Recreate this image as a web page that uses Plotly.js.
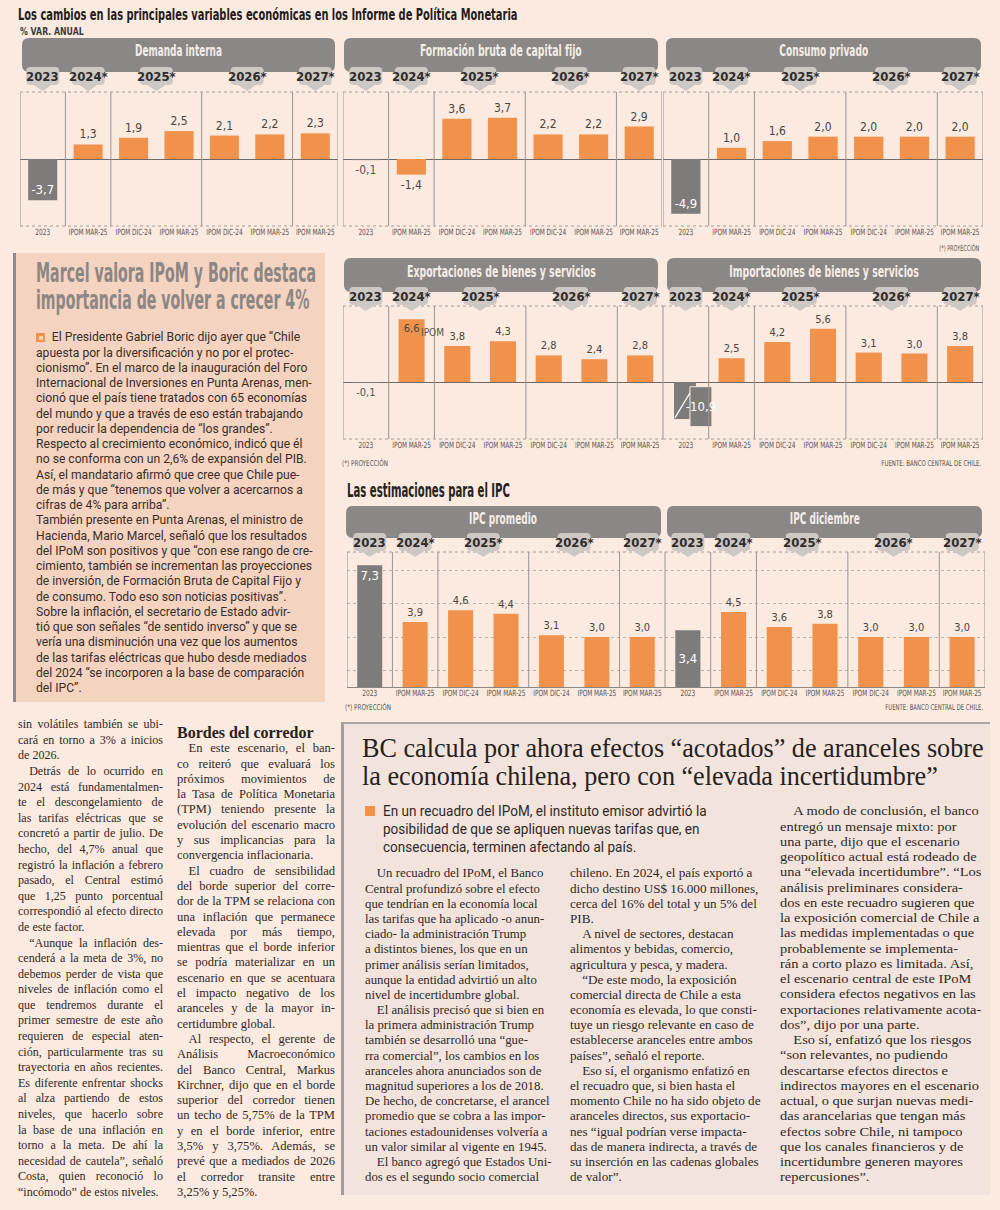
<!DOCTYPE html>
<html lang="es"><head><meta charset="utf-8"><title>IPoM</title>
<script src="https://cdn.plot.ly/plotly-3.0.1.min.js"></script>
<style>
html,body{margin:0;padding:0;background:#fbeadf;}
#page{position:relative;width:1000px;height:1210px;overflow:hidden;background:#fbeadf;}
#chart{position:absolute;left:0;top:0;width:1000px;height:1210px;z-index:1;}
.box{position:absolute;z-index:2;box-sizing:border-box;}
.blk{position:absolute;z-index:3;transform-origin:0 0;}
.ln{display:block;}
.sq{position:absolute;z-index:4;width:10px;height:10px;background:#f0924b;}
.sq i{position:absolute;left:3px;top:3px;width:4px;height:4px;background:#f9d3b2;}
</style></head>
<body><div id="page"><div id="chart"></div></div>
<script>
const W = 1000, H = 1210;
const BG = '#fbeadf', ORANGE = '#f0924b', GRAY = '#7e7c7b', HEAD = '#8b8786', TAB = '#cec8c5';
const NARROW = '"Liberation Sans Narrow","DejaVu Sans Condensed",sans-serif';

// ---------- DATA ----------
const categories = ['2023','IPOM MAR-25','IPOM DIC-24','IPOM MAR-25','IPOM DIC-24','IPOM MAR-25','IPOM MAR-25'];
const yearGroups = ['2023','2024*','2025*','2025*','2026*','2026*','2027*'];
const demandaInterna = [-3.7, 1.3, 1.9, 2.5, 2.1, 2.2, 2.3];
const formacionBruta = [-0.1, -1.4, 3.6, 3.7, 2.2, 2.2, 2.9];
const consumoPrivado = [-4.9, 1.0, 1.6, 2.0, 2.0, 2.0, 2.0];
const exportaciones = [-0.1, 6.6, 3.8, 4.3, 2.8, 2.4, 2.8];
const importaciones = [-10.9, 2.5, 4.2, 5.6, 3.1, 3.0, 3.8];
const ipcPromedio = [7.3, 3.9, 4.6, 4.4, 3.1, 3.0, 3.0];
const ipcDiciembre = [3.4, 4.5, 3.6, 3.8, 3.0, 3.0, 3.0];
const ipcGridVals = [1, 3, 5, 7];

const mainTitle = 'Los cambios en las principales variables económicas en los Informe de Política Monetaria';

// ---------- PANEL LAYOUT (px) ----------
const panels = [
 {title:'Demanda interna', values:demandaInterna, x:[20,338], y:[92,226], range:[-6,6], head:[22,335,38,72], titleW:87, bw:0.64, fs:12},
 {title:'Formación bruta de capital fijo', values:formacionBruta, x:[343,662], y:[92,226], range:[-6,6], head:[344,658,38,72], titleW:162, bw:0.64, fs:12},
 {title:'Consumo privado', values:consumoPrivado, x:[663,983], y:[92,226], range:[-6,6], head:[666,981,38,72], titleW:89, bw:0.64, fs:12},
 {title:'Exportaciones de bienes y servicios', values:exportaciones, x:[343,663], y:[306,439], range:[-6,8], head:[344,658,258,292], titleW:189, bw:0.57, fs:11, insideIdx:[1], note:{idx:1, dx:0.45, dy:-1.35, text:'IPOM'}},
 {title:'Importaciones de bienes y servicios', values:importaciones, x:[663,983], y:[306,439], range:[-6,8], head:[667,981,258,292], titleW:190, bw:0.57, fs:11},
 {title:'IPC promedio', values:ipcPromedio, x:[347,665], y:[552,687], range:[0,8.1], head:[346,661,506,538], titleW:68, bw:0.55, fs:11, grid:true},
 {title:'IPC diciembre', values:ipcDiciembre, x:[665,985], y:[552,687], range:[0,8.1], head:[667,982,506,538], titleW:70, bw:0.55, fs:11, grid:true, grayAnchor:'middle'}
];

const fmt = v => v.toFixed(1).replace('.', ',');
const isProj = g => g.endsWith('*');
const PY = v => (1 - v / H);

function roundRectPx(x0, x1, y0, y1, r) {
  const X = v => (v / W).toFixed(5), Y = v => (1 - v / H).toFixed(5);
  return `M ${X(x0+r)},${Y(y0)} L ${X(x1-r)},${Y(y0)} Q ${X(x1)},${Y(y0)} ${X(x1)},${Y(y0+r)} L ${X(x1)},${Y(y1-r)} Q ${X(x1)},${Y(y1)} ${X(x1-r)},${Y(y1)} L ${X(x0+r)},${Y(y1)} Q ${X(x0)},${Y(y1)} ${X(x0)},${Y(y1-r)} L ${X(x0)},${Y(y0+r)} Q ${X(x0)},${Y(y0)} ${X(x0+r)},${Y(y0)} Z`;
}
function tabPath(c, hw, rx, yT, yB, yTip, ry, pw) {
  const Y = v => (1 - v / H).toFixed(5);
  const L = c - hw, R = c + hw;
  return `M ${L+rx},${Y(yT)} L ${R-rx},${Y(yT)} Q ${R},${Y(yT)} ${R},${Y(yT+ry)} L ${R},${Y(yB-ry)} Q ${R},${Y(yB)} ${R-rx},${Y(yB)} L ${c+pw},${Y(yB)} L ${c},${Y(yTip)} L ${c-pw},${Y(yB)} L ${L+rx},${Y(yB)} Q ${L},${Y(yB)} ${L},${Y(yB-ry)} L ${L},${Y(yT+ry)} Q ${L},${Y(yT)} ${L+rx},${Y(yT)} Z`;
}

const traces = [], shapes = [], annotations = [], fits = [];
function addAnn(a, fit) { annotations.push(Object.assign({showarrow:false, xanchor:'center', yanchor:'middle'}, a)); fits.push(fit || null); }

const layout = {
  width: W, height: H, margin:{l:0, r:0, t:0, b:0},
  paper_bgcolor: BG, plot_bgcolor: 'rgba(0,0,0,0)',
  barmode: 'overlay', showlegend: false,
  font: {family: NARROW, color: '#444'},
  title: {text: '<b>' + mainTitle + '</b>', x: 18 / W, xanchor: 'left', y: PY(14), yanchor: 'middle', xref: 'paper', yref: 'paper', font: {family: NARROW, size: 16, color: '#1f1c1b'}},
  shapes: shapes, annotations: annotations
};

panels.forEach((p, k) => {
  const id = k ? String(k + 1) : '';
  const xa = 'x' + id, ya = 'y' + id;
  const n = p.values.length;
  const idx = p.values.map((_, i) => i);
  const slot = (p.x[1] - p.x[0]) / n;
  layout['xaxis' + id] = {domain:[p.x[0] / W, p.x[1] / W], range:[-0.5, n - 0.5], anchor: ya,
    tickmode:'array', tickvals: idx, ticktext: categories, tickangle: 0,
    tickfont:{family: NARROW, size: 8.5, color: '#5b5554'}, showgrid:false, zeroline:false, showline:false, ticks:'', fixedrange:true};
  const yax = {domain:[PY(p.y[1]), PY(p.y[0])], range: p.range, anchor: xa, showticklabels:false, ticks:'',
    zeroline:true, zerolinecolor: p.grid ? '#8c8683' : '#6f6a68', zerolinewidth:1, showgrid: !!p.grid, fixedrange:true};
  if (p.grid) Object.assign(yax, {tickmode:'array', tickvals: ipcGridVals, gridcolor:'#bdb2ac', griddash:'dot', gridwidth:1});
  layout['yaxis' + id] = yax;

  // header bar
  const [hx0, hx1, hy0, hy1] = p.head;
  shapes.push({type:'path', xref:'paper', yref:'paper', path: roundRectPx(hx0, hx1, hy0, hy1, 7), fillcolor: HEAD, line:{width:0}});
  addAnn({xref:'paper', yref:'paper', x: (hx0 + hx1) / 2 / W, y: PY(hy0 + 13), text: '<b>' + p.title + '</b>', font:{family: NARROW, size: 16.5, color:'#f4ede8'}}, {w: p.titleW, a:'center'});

  // frame lines
  const bounds = [-0.5];
  for (let i = 1; i < n; i++) if (yearGroups[i] !== yearGroups[i - 1]) bounds.push(i - 0.5);
  bounds.push(n - 0.5);
  bounds.forEach(b => shapes.push({type:'line', xref: xa, yref: ya + ' domain', x0:b, x1:b, y0:0, y1:1, line:{color:'#9b9593', width:1}}));
  shapes.push({type:'line', xref: xa + ' domain', yref: ya + ' domain', x0:0, x1:1, y0:1, y1:1, line:{color:'#a49e9b', width:1, dash:'dot'}});
  if (!p.grid) shapes.push({type:'line', xref: xa + ' domain', yref: ya + ' domain', x0:0, x1:1, y0:0, y1:0, line:{color:'#a49e9b', width:1, dash:'dot'}});

  // year tabs
  const tabTop = hy1 - 5, tabBot = tabTop + 18, tip = tabBot + 6;
  let s = 0;
  for (let i = 1; i <= n; i++) {
    if (i === n || yearGroups[i] !== yearGroups[s]) {
      const c = (s + i - 1) / 2;
      shapes.push({type:'path', xref: xa, yref:'paper', path: tabPath(c, 16.5 / slot, 4 / slot, tabTop, tabBot, tip, 4, 9 / slot), fillcolor: TAB, line:{width:0}});
      addAnn({xref: xa, yref:'paper', x: c, y: PY(tabTop + 9.5), text: '<b>' + yearGroups[s] + '</b>', font:{family: NARROW, size: 13, color:'#2f2c2b'}});
      s = i;
    }
  }

  // bars: actual (gray) and projections (orange)
  const actual = idx.filter(i => !isProj(yearGroups[i]));
  const proj = idx.filter(i => isProj(yearGroups[i]));
  const inR = actual.filter(i => p.values[i] >= p.range[0]);
  const off = actual.filter(i => p.values[i] < p.range[0]);
  const whiteFont = {family: NARROW, size: 13, color: '#ffffff'};
  const darkFont = {family: NARROW, size: p.fs, color: '#4a4543'};
  if (inR.length) traces.push({type:'bar', xaxis: xa, yaxis: ya, x: inR, y: inR.map(i => p.values[i]), width: p.bw,
    marker:{color: GRAY}, text: inR.map(i => fmt(p.values[i])), textangle: 0,
    textposition: inR.map(i => Math.abs(p.values[i]) >= 1 ? 'inside' : 'outside'),
    insidetextanchor: p.grayAnchor || 'end', insidetextfont: whiteFont, outsidetextfont: {family: NARROW, size: p.fs, color:'#555'},
    constraintext:'none', cliponaxis:false, hoverinfo:'skip'});
  off.forEach(i => {
    const r0 = p.range[0];
    traces.push({type:'bar', xaxis: xa, yaxis: ya, x:[i], y:[r0 * 0.65], width: 0.48, offset: -0.26, marker:{color: GRAY}, hoverinfo:'skip'});
    traces.push({type:'bar', xaxis: xa, yaxis: ya, x:[i], base:[r0 * 0.083], y:[r0 * 0.7], width: 0.48, offset: 0.09,
      marker:{color: GRAY, line:{color: BG, width: 1}}, text:[fmt(p.values[i])], textangle: 0, textposition:'inside', insidetextanchor:'middle',
      insidetextfont: whiteFont, constraintext:'none', hoverinfo:'skip'});
    shapes.push({type:'line', xref: xa, yref: ya, x0: i - 0.24, y0: r0 * 0.63, x1: i + 0.09, y1: r0 * 0.19, line:{color:'#ffffff', width:1.2}});
  });
  traces.push({type:'bar', xaxis: xa, yaxis: ya, x: proj, y: proj.map(i => p.values[i]), width: p.bw,
    marker:{color: ORANGE}, text: proj.map(i => fmt(p.values[i])), textangle: 0,
    textposition: proj.map(i => (p.insideIdx || []).includes(i) ? 'inside' : 'outside'),
    insidetextanchor:'end', textfont: darkFont, insidetextfont: darkFont, outsidetextfont: darkFont,
    constraintext:'none', cliponaxis:false, hoverinfo:'skip'});
  if (p.note) addAnn({xref: xa, yref: ya, x: p.note.idx + p.note.dx, y: p.values[p.note.idx] + p.note.dy, text: p.note.text, font:{family: NARROW, size: 10, color:'#555'}});
});

// other chart texts
addAnn({xref:'paper', yref:'paper', x: 18 / W, y: PY(31), xanchor:'left', text:'<b>% VAR. ANUAL</b>', font:{family: NARROW, size: 10, color:'#3a3a3a'}}, {w:64, a:'left'});
addAnn({xref:'paper', yref:'paper', x: 345 / W, y: PY(490), xanchor:'left', text:'<b>Las estimaciones para el IPC</b>', font:{family: NARROW, size: 20, color:'#262322'}}, {w:163, a:'left'});
addAnn({xref:'paper', yref:'paper', x: 981 / W, y: PY(247), xanchor:'right', text:'(*) PROYECCIÓN', font:{family: NARROW, size: 8, color:'#555'}}, {w:40, a:'right'});
addAnn({xref:'paper', yref:'paper', x: 340 / W, y: PY(462), xanchor:'left', text:'(*) PROYECCIÓN', font:{family: NARROW, size: 8, color:'#555'}}, {w:46, a:'left'});
addAnn({xref:'paper', yref:'paper', x: 343 / W, y: PY(706), xanchor:'left', text:'(*) PROYECCIÓN', font:{family: NARROW, size: 8, color:'#555'}}, {w:46, a:'left'});
addAnn({xref:'paper', yref:'paper', x: 983 / W, y: PY(464), xanchor:'right', text:'FUENTE: BANCO CENTRAL DE CHILE.', font:{family: NARROW, size: 8, color:'#555'}}, {w:100, a:'right'});
addAnn({xref:'paper', yref:'paper', x: 985 / W, y: PY(707), xanchor:'right', text:'FUENTE: BANCO CENTRAL DE CHILE.', font:{family: NARROW, size: 8, color:'#555'}}, {w:98, a:'right'});

// ---------- ARTICLE TEXTS ----------
const sideTitle = [['Marcel valora IPoM y Boric destaca', 'importancia de volver a crecer 4%']];
const sideBody = [[
 'El Presidente Gabriel Boric dijo ayer que “Chile',
 'apuesta por la diversificación y no por el protec-',
 'cionismo”. En el marco de la inauguración del Foro',
 'Internacional de Inversiones en Punta Arenas, men-',
 'cionó que el país tiene tratados con 65 economías',
 'del mundo y que a través de eso están trabajando',
 'por reducir la dependencia de “los grandes”.',
 'Respecto al crecimiento económico, indicó que él',
 'no se conforma con un 2,6% de expansión del PIB.',
 'Así, el mandatario afirmó que cree que Chile pue-',
 'de más y que “tenemos que volver a acercarnos a',
 'cifras de 4% para arriba”.',
 'También presente en Punta Arenas, el ministro de',
 'Hacienda, Mario Marcel, señaló que los resultados',
 'del IPoM son positivos y que “con ese rango de cre-',
 'cimiento, también se incrementan las proyecciones',
 'de inversión, de Formación Bruta de Capital Fijo y',
 'de consumo. Todo eso son noticias positivas”.',
 'Sobre la inflación, el secretario de Estado advir-',
 'tió que son señales “de sentido inverso” y que se',
 'vería una disminución una vez que los aumentos',
 'de las tarifas eléctricas que hubo desde mediados',
 'del 2024 “se incorporen a la base de comparación',
 'del IPC”.']];
const col1 = [
 ['sin volátiles también se ubi-', 'cará en torno a 3% a inicios', 'de 2026.'],
 ['Detrás de lo ocurrido en', '2024 está fundamentalmen-', 'te el descongelamiento de', 'las tarifas eléctricas que se', 'concretó a partir de julio. De', 'hecho, del 4,7% anual que', 'registró la inflación a febrero', 'pasado, el Central estimó', 'que 1,25 punto porcentual', 'correspondió al efecto directo', 'de este factor.'],
 ['“Aunque la inflación des-', 'cenderá a la meta de 3%, no', 'debemos perder de vista que', 'niveles de inflación como el', 'que tendremos durante el', 'primer semestre de este año', 'requieren de especial aten-', 'ción, particularmente tras su', 'trayectoria en años recientes.', 'Es diferente enfrentar shocks', 'al alza partiendo de estos', 'niveles, que hacerlo sobre', 'la base de una inflación en', 'torno a la meta. De ahí la', 'necesidad de cautela”, señaló', 'Costa, quien reconoció lo', '“incómodo” de estos niveles.']
];
const col2Head = [['Bordes del corredor']];
const col2 = [
 ['En este escenario, el ban-', 'co reiteró que evaluará los', 'próximos movimientos de', 'la Tasa de Política Monetaria', '(TPM) teniendo presente la', 'evolución del escenario macro', 'y sus implicancias para la', 'convergencia inflacionaria.'],
 ['El cuadro de sensibilidad', 'del borde superior del corre-', 'dor de la TPM se relaciona con', 'una inflación que permanece', 'elevada por más tiempo,', 'mientras que el borde inferior', 'se podría materializar en un', 'escenario en que se acentuara', 'el impacto negativo de los', 'aranceles y de la mayor in-', 'certidumbre global.'],
 ['Al respecto, el gerente de', 'Análisis Macroeconómico', 'del Banco Central, Markus', 'Kirchner, dijo que en el borde', 'superior del corredor tienen', 'un techo de 5,75% de la TPM', 'y en el borde inferior, entre', '3,5% y 3,75%. Además, se', 'prevé que a mediados de 2026', 'el corredor transite entre', '3,25% y 5,25%.']
];
const artTitle = [['BC calcula por ahora efectos “acotados” de aranceles sobre', 'la economía chilena, pero con “elevada incertidumbre”']];
const artLead = [['En un recuadro del IPoM, el instituto emisor advirtió la', 'posibilidad de que se apliquen nuevas tarifas que, en', 'consecuencia, terminen afectando al país.']];
const colA = [
 ['Un recuadro del IPoM, el Banco', 'Central profundizó sobre el efecto', 'que tendrían en la economía local', 'las tarifas que ha aplicado -o anun-', 'ciado- la administración Trump', 'a distintos bienes, los que en un', 'primer análisis serían limitados,', 'aunque la entidad advirtió un alto', 'nivel de incertidumbre global.'],
 ['El análisis precisó que si bien en', 'la primera administración Trump', 'también se desarrolló una “gue-', 'rra comercial”, los cambios en los', 'aranceles ahora anunciados son de', 'magnitud superiores a los de 2018.', 'De hecho, de concretarse, el arancel', 'promedio que se cobra a las impor-', 'taciones estadounidenses volvería a', 'un valor similar al vigente en 1945.'],
 ['El banco agregó que Estados Uni-', 'dos es el segundo socio comercial']
];
const colB = [
 ['chileno. En 2024, el país exportó a', 'dicho destino US$ 16.000 millones,', 'cerca del 16% del total y un 5% del', 'PIB.'],
 ['A nivel de sectores, destacan', 'alimentos y bebidas, comercio,', 'agricultura y pesca, y madera.'],
 ['“De este modo, la exposición', 'comercial directa de Chile a esta', 'economía es elevada, lo que consti-', 'tuye un riesgo relevante en caso de', 'establecerse aranceles entre ambos', 'países”, señaló el reporte.'],
 ['Eso sí, el organismo enfatizó en', 'el recuadro que, si bien hasta el', 'momento Chile no ha sido objeto de', 'aranceles directos, sus exportacio-', 'nes “igual podrían verse impacta-', 'das de manera indirecta, a través de', 'su inserción en las cadenas globales', 'de valor”.']
];
const colC = [
 ['A modo de conclusión, el banco', 'entregó un mensaje mixto: por', 'una parte, dijo que el escenario', 'geopolítico actual está rodeado de', 'una “elevada incertidumbre”. “Los', 'análisis preliminares considera-', 'dos en este recuadro sugieren que', 'la exposición comercial de Chile a', 'las medidas implementadas o que', 'probablemente se implementa-', 'rán a corto plazo es limitada. Así,', 'el escenario central de este IPoM', 'considera efectos negativos en las', 'exportaciones relativamente acota-', 'dos”, dijo por una parte.'],
 ['Eso sí, enfatizó que los riesgos', '“son relevantes, no pudiendo', 'descartarse efectos directos e', 'indirectos mayores en el escenario', 'actual, o que surjan nuevas medi-', 'das arancelarias que tengan más', 'efectos sobre Chile, ni tampoco', 'que los canales financieros y de', 'incertidumbre generen mayores', 'repercusiones”.']
];

const page = document.getElementById('page');
function addBox(l, t, w, h, css) {
  const d = document.createElement('div'); d.className = 'box';
  d.style.cssText += `left:${l}px;top:${t}px;width:${w}px;height:${h}px;` + css;
  page.appendChild(d); return d;
}
function makeBlock(left, top, lh, font, color, paras, o) {
  const el = document.createElement('div'); el.className = 'blk';
  el.style.left = left + 'px'; el.style.top = top + 'px'; el.style.font = font;
  el.style.lineHeight = lh + 'px'; el.style.color = color;
  paras.forEach((para, pi) => para.forEach((line, li) => {
    const d = document.createElement('div'); d.className = 'ln'; d.style.height = lh + 'px';
    if (li === 0 && o.indent && !(pi === 0 && o.noFirstIndent)) d.style.paddingLeft = o.indent + 'px';
    if (li === 0 && pi === 0 && o.firstPad) d.style.paddingLeft = o.firstPad + 'px';
    d.dataset.last = (li === para.length - 1) ? '1' : '0';
    const s = document.createElement('span'); s.textContent = line; d.appendChild(s); el.appendChild(d);
  }));
  page.appendChild(el);
  el.style.width = '4000px'; el.style.whiteSpace = 'nowrap';
  const L = el.getBoundingClientRect().left;
  let max = 0;
  el.querySelectorAll('.ln > span').forEach(s => { max = Math.max(max, s.getBoundingClientRect().right - L); });
  const Wn = max + 1.5;
  el.style.width = Wn + 'px';
  el.style.transform = `scaleX(${o.target / Wn})`;
  if (o.justify) {
    el.style.whiteSpace = 'normal';
    el.querySelectorAll('.ln').forEach(d => { if (d.dataset.last === '0') { d.style.textAlign = 'justify'; d.style.textAlignLast = 'justify'; } });
  }
  return el;
}

function squeeze(t, w, a) {
  const bb = t.getBBox(); if (!bb.width) return;
  const s = w / bb.width;
  const ax = a === 'left' ? bb.x : a === 'right' ? bb.x + bb.width : bb.x + bb.width / 2;
  const prev = t.getAttribute('transform') || '';
  t.setAttribute('transform', `${prev} translate(${ax},0) scale(${s},1) translate(${-ax},0)`);
}
function condenseSvg() {
  const gd = document.getElementById('chart');
  gd.querySelectorAll('g.annotation').forEach(g => {
    const i = +g.getAttribute('data-index'); const f = fits[i]; if (!f) return;
    const t = g.querySelector('text.annotation-text'); if (t) squeeze(t, f.w, f.a);
  });
  const tt = gd.querySelector('.gtitle'); if (tt) squeeze(tt, 500, 'left');
  gd.querySelectorAll('.xaxislayer-above text').forEach(t => {
    const bb = t.getBBox(); if (bb.width) squeeze(t, bb.width * 0.76, 'center');
  });
}

function buildText() {
  // sidebar
  addBox(13, 253, 312, 449, 'background:#f4d3c0;border-left:3px solid #8e8a89;');
  makeBlock(36, 259.5, 27, 'bold 26px "Liberation Sans Narrow","DejaVu Sans Condensed",sans-serif', '#8c8684', sideTitle, {target: 281});
  const b1 = document.createElement('div'); b1.className = 'sq'; b1.style.left = '36px'; b1.style.top = '333px'; b1.style.width = '9px'; b1.style.height = '9px';
  b1.innerHTML = '<i></i>'; page.appendChild(b1);
  makeBlock(36, 329.4, 15.26, '13px Roboto,"Open Sans",sans-serif', '#3a2e29', sideBody, {target: 278, firstPad: 17});
  // bottom-left columns
  makeBlock(18, 716.2, 15.6, '13px "Liberation Serif",serif', '#2e2926', col1, {target: 145, justify: true, indent: 12, noFirstIndent: true});
  makeBlock(177, 724, 18, 'bold 16px "Liberation Serif",serif', '#262221', col2Head, {target: 138});
  makeBlock(177, 740.3, 15.31, '13px "Liberation Serif",serif', '#2e2926', col2, {target: 158, justify: true, indent: 12});
  // article box
  addBox(341, 722, 649, 473, 'background:#f2e3dc;border-left:3px solid #a39d9b;border-top:2px solid #aaa4a2;');
  makeBlock(362, 734, 28, '27px "Liberation Serif",serif', '#262221', artTitle, {target: 623});
  const b2 = document.createElement('div'); b2.className = 'sq'; b2.style.left = '365px'; b2.style.top = '806px'; page.appendChild(b2);
  makeBlock(383, 802, 18, '14px Roboto,"Open Sans",sans-serif', '#2e2a28', artLead, {target: 325});
  makeBlock(365, 865.4, 15.2, '13px "Liberation Serif",serif', '#2e2926', colA, {target: 188, indent: 12});
  makeBlock(570, 865.4, 15.2, '13px "Liberation Serif",serif', '#2e2926', colB, {target: 192, indent: 12, noFirstIndent: true});
  makeBlock(780, 803.4, 15.25, '13px "Liberation Serif",serif', '#2e2926', colC, {target: 203, indent: 12});
}

Plotly.newPlot('chart', traces, layout, {staticPlot: true, displayModeBar: false}).then(() => {
  condenseSvg();
  (document.fonts ? document.fonts.ready : Promise.resolve()).then(buildText);
});
</script></body></html>
